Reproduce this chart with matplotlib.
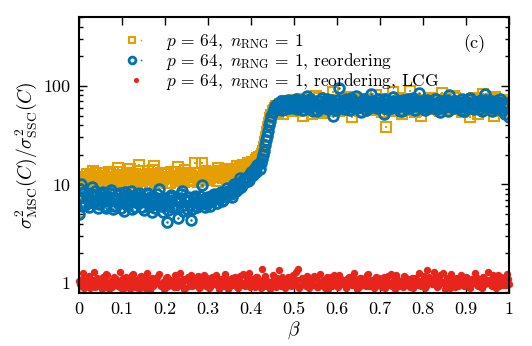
import numpy as np
import matplotlib
matplotlib.use('Agg')
from matplotlib import pyplot as plt
from matplotlib.legend_handler import HandlerTuple

# beta grid, step 0.005, plus the half-step grid in between
beta = np.linspace(0, 1, 201)
beta_b = beta[:-1] + 0.0025

# p=64, n_RNG=1
plain = [5.2, 9.0, 10.5, 12.0, 11.0, 12.5, 10.0, 11.5, 13.0, 10.8, 11.2, 12.2, 9.8, 11.6, 13.5, 10.4, 12.0, 11.0, 14.5, 10.6,
         12.4, 11.3, 9.9, 13.2, 11.8, 10.5, 12.7, 11.1, 15.8, 10.9, 12.3, 11.5, 13.8, 10.2, 11.9, 15.2, 12.1, 10.7, 13.0, 11.4,
         12.6, 10.3, 11.7, 13.4, 12.0, 10.8, 14.9, 11.2, 12.5, 10.6, 13.1, 11.8, 12.3, 10.9, 16.5, 12.0, 11.3, 16.3, 12.8, 11.0,
         12.9, 11.6, 13.5, 12.1, 10.9, 13.8, 12.4, 11.5, 14.0, 12.7, 13.2, 12.0, 14.4, 13.1, 12.6, 14.8, 13.5, 15.0, 14.2, 16.0,
         15.3, 17.0, 16.2, 18.5, 17.8, 20.5, 24.0, 30.0, 38.0, 47.0, 55.0, 60.0, 63.0, 58.0, 66.0, 52.0, 70.0, 61.0, 68.0, 55.0,
         64.0, 72.0, 59.0, 67.0, 50.0, 74.0, 62.0, 69.0, 57.0, 65.0, 78.0, 60.0, 66.0, 53.0, 71.0, 63.0, 58.0, 68.0, 86.0, 61.0,
         67.0, 55.0, 73.0, 64.0, 59.0, 70.0, 62.0, 48.0, 66.0, 75.0, 60.0, 68.0, 56.0, 72.0, 63.0, 67.0, 58.0, 65.0, 80.0, 61.0,
         69.0, 54.0, 66.0, 38.0, 71.0, 62.0, 87.0, 59.0, 68.0, 64.0, 52.0, 73.0, 60.0, 67.0, 89.0, 57.0, 70.0, 63.0, 66.0, 50.0,
         72.0, 61.0, 68.0, 58.0, 74.0, 65.0, 62.0, 69.0, 56.0, 84.0, 64.0, 71.0, 59.0, 67.0, 63.0, 76.0, 60.0, 66.0, 54.0, 70.0,
         62.0, 68.0, 48.0, 73.0, 65.0, 59.0, 71.0, 63.0, 82.0, 57.0, 67.0, 61.0, 74.0, 50.0, 66.0, 69.0, 60.0, 72.0, 58.0, 64.0,
         56.0]
plain_b = [8.0, 11.5, 9.5, 12.8, 10.2, 11.7, 13.6, 10.1, 12.2, 11.0, 9.6, 12.9, 11.4, 10.3, 12.6, 11.8, 10.0, 13.3, 11.1, 12.0,
           10.7, 12.5, 11.6, 14.2, 10.4, 12.1, 11.3, 13.7, 10.8, 12.4, 11.0, 9.7, 12.8, 11.5, 13.9, 10.6, 12.2, 11.7, 10.5, 13.0,
           11.9, 12.7, 10.4, 11.6, 13.5, 12.2, 10.9, 12.8, 11.4, 14.1, 10.7, 12.4, 11.1, 13.2, 11.8, 10.6, 12.9, 11.5, 13.6, 12.3,
           11.2, 13.0, 12.5, 11.8, 14.6, 12.2, 13.3, 11.9, 12.8, 14.2, 12.4, 13.7, 12.9, 15.5, 13.6, 14.1, 15.8, 14.4, 16.6, 15.1,
           16.8, 15.9, 17.6, 19.0, 19.5, 22.0, 27.0, 34.0, 42.0, 51.0, 57.0, 62.0, 54.0, 65.0, 60.0, 69.0, 57.0, 64.0, 71.0, 62.0,
           68.0, 56.0, 65.0, 73.0, 61.0, 58.0, 70.0, 64.0, 52.0, 67.0, 62.0, 75.0, 59.0, 69.0, 65.0, 56.0, 72.0, 63.0, 60.0, 68.0,
           64.0, 71.0, 57.0, 66.0, 77.0, 61.0, 67.0, 59.0, 73.0, 63.0, 55.0, 70.0, 65.0, 60.0, 74.0, 62.0, 68.0, 57.0, 71.0, 64.0,
           60.0, 67.0, 73.0, 58.0, 65.0, 70.0, 62.0, 56.0, 69.0, 75.0, 63.0, 59.0, 66.0, 71.0, 61.0, 68.0, 54.0, 72.0, 64.0, 67.0,
           59.0, 70.0, 63.0, 76.0, 60.0, 66.0, 72.0, 57.0, 68.0, 62.0, 74.0, 65.0, 58.0, 69.0, 78.0, 61.0, 67.0, 71.0, 63.0, 56.0,
           70.0, 64.0, 60.0, 75.0, 66.0, 52.0, 69.0, 62.0, 72.0, 65.0, 58.0, 68.0, 63.0, 77.0, 60.0, 55.0, 71.0, 66.0, 62.0, 69.0]

# p=64, n_RNG=1, reordering
reorder = [5.0, 10.0, 7.5, 6.2, 8.0, 7.0, 9.5, 6.5, 7.8, 5.8, 7.2, 8.4, 6.0, 7.6, 6.8, 8.8, 5.6, 7.3, 6.4, 8.1,
           6.9, 5.4, 7.7, 6.3, 8.6, 7.1, 5.9, 6.7, 8.2, 7.4, 5.5, 6.6, 7.9, 6.1, 5.2, 7.5, 6.8, 8.9, 6.0, 5.3,
           7.2, 4.2, 6.5, 7.8, 5.7, 6.9, 4.6, 7.3, 8.5, 6.2, 5.6, 7.0, 4.4, 6.7, 7.6, 5.9, 6.4, 9.8, 7.1, 6.3,
           7.4, 6.0, 6.8, 7.9, 6.5, 7.2, 8.4, 6.9, 7.7, 9.2, 8.1, 7.5, 10.2, 8.6, 9.0, 11.5, 9.8, 10.6, 12.0, 11.2,
           13.5, 12.4, 14.8, 15.6, 14.2, 18.0, 22.0, 28.0, 35.0, 44.0, 54.0, 62.0, 66.0, 60.0, 70.0, 64.0, 58.0, 72.0, 62.0, 67.0,
           59.0, 74.0, 63.0, 68.0, 57.0, 66.0, 79.0, 61.0, 70.0, 55.0, 65.0, 71.0, 60.0, 75.0, 64.0, 68.0, 58.0, 72.0, 50.0, 66.0,
           63.0, 95.0, 69.0, 60.0, 73.0, 65.0, 57.0, 70.0, 62.0, 78.0, 67.0, 54.0, 71.0, 64.0, 68.0, 59.0, 82.0, 66.0, 61.0, 74.0,
           63.0, 69.0, 52.0, 72.0, 65.0, 60.0, 77.0, 67.0, 62.0, 70.0, 56.0, 68.0, 64.0, 73.0, 59.0, 66.0, 71.0, 62.0, 85.0, 65.0,
           69.0, 57.0, 72.0, 63.0, 67.0, 60.0, 74.0, 65.0, 54.0, 70.0, 62.0, 68.0, 80.0, 64.0, 59.0, 71.0, 66.0, 61.0, 73.0, 55.0,
           67.0, 63.0, 76.0, 60.0, 69.0, 65.0, 58.0, 72.0, 64.0, 83.0, 62.0, 68.0, 56.0, 70.0, 66.0, 61.0, 74.0, 63.0, 52.0, 67.0,
           48.0]
reorder_b = [9.0, 6.0, 8.3, 7.1, 5.9, 7.9, 6.6, 8.5, 7.0, 6.3, 8.0, 7.4, 5.7, 6.9, 8.2, 7.2, 6.1, 7.8, 6.7, 5.8,
             7.5, 8.3, 6.2, 7.0, 5.6, 7.7, 8.0, 6.4, 7.3, 5.9, 6.9, 8.1, 6.3, 7.4, 6.6, 5.7, 7.9, 6.5, 7.1, 6.0,
             6.8, 5.5, 7.4, 6.1, 7.0, 5.8, 6.6, 7.9, 5.4, 6.9, 7.5, 6.2, 5.6, 7.2, 6.0, 6.8, 7.7, 6.4, 5.9, 7.0,
             6.6, 7.6, 7.1, 6.4, 8.0, 7.3, 6.8, 8.2, 7.6, 8.6, 7.9, 9.4, 8.8, 9.6, 10.3, 9.5, 11.0, 11.6, 10.8, 12.6,
             12.9, 14.0, 13.4, 16.2, 16.5, 20.0, 25.0, 31.0, 40.0, 49.0, 58.0, 64.0, 61.0, 68.0, 57.0, 71.0, 65.0, 60.0, 69.0, 63.0,
             70.0, 58.0, 66.0, 72.0, 62.0, 67.0, 60.0, 74.0, 64.0, 68.0, 56.0, 71.0, 63.0, 66.0, 59.0, 73.0, 61.0, 69.0, 65.0, 57.0,
             72.0, 62.0, 67.0, 58.0, 70.0, 64.0, 76.0, 61.0, 66.0, 59.0, 69.0, 63.0, 73.0, 57.0, 67.0, 62.0, 70.0, 65.0, 60.0, 68.0,
             66.0, 61.0, 74.0, 58.0, 69.0, 63.0, 71.0, 60.0, 67.0, 55.0, 72.0, 64.0, 59.0, 68.0, 62.0, 75.0, 57.0, 66.0, 70.0, 61.0,
             64.0, 71.0, 59.0, 67.0, 62.0, 73.0, 58.0, 69.0, 65.0, 60.0, 72.0, 56.0, 66.0, 63.0, 70.0, 61.0, 68.0, 57.0, 65.0, 71.0,
             60.0, 73.0, 64.0, 58.0, 68.0, 62.0, 70.0, 55.0, 66.0, 61.0, 72.0, 64.0, 59.0, 67.0, 63.0, 69.0, 57.0, 65.0, 60.0, 62.0]

# p=64, n_RNG=1, reordering, LCG
lcg = [1.05, 0.92, 1.25, 0.98, 1.12, 0.88, 1.02, 1.30, 0.95, 1.08, 0.90, 1.15, 0.97, 1.20, 0.86, 1.04, 0.99, 1.10, 0.93, 1.28,
       1.01, 0.89, 1.14, 0.96, 1.06, 1.22, 0.91, 1.03, 0.87, 1.18, 0.94, 1.09, 1.00, 0.85, 1.13, 0.97, 1.07, 1.24, 0.92, 1.02,
       0.88, 1.16, 0.99, 1.05, 0.90, 1.11, 0.95, 1.27, 1.00, 0.87, 1.08, 0.93, 1.19, 1.03, 0.96, 1.12, 0.89, 1.04, 1.21, 0.94,
       1.06, 0.91, 1.15, 0.98, 1.02, 0.86, 1.10, 0.97, 1.23, 1.01, 0.92, 1.13, 0.95, 1.07, 0.88, 1.17, 1.00, 0.93, 1.09, 1.26,
       0.96, 1.04, 0.90, 1.14, 0.99, 1.38, 0.94, 1.08, 1.02, 0.87, 1.20, 0.97, 1.11, 1.35, 0.92, 1.05, 0.89, 1.16, 1.00, 0.95,
       1.10, 1.29, 1.40, 0.93, 1.07, 0.98, 1.18, 0.88, 1.03, 0.96, 1.12, 0.91, 1.24, 1.01, 0.94, 1.09, 0.87, 1.15, 0.99, 1.05,
       0.92, 1.21, 0.97, 1.08, 0.89, 1.13, 1.02, 0.95, 1.27, 1.00, 0.90, 1.11, 0.96, 1.06, 1.19, 0.93, 1.04, 0.88, 1.16, 0.98,
       1.07, 0.91, 1.14, 1.01, 0.95, 1.23, 0.99, 0.86, 1.10, 0.94, 1.05, 1.18, 0.97, 1.02, 0.90, 1.12, 0.96, 1.08, 1.25, 0.93,
       1.03, 0.89, 1.34, 1.15, 0.98, 1.28, 1.06, 0.92, 1.19, 1.01, 0.87, 1.11, 0.95, 1.22, 1.04, 0.91, 1.13, 0.99, 1.07, 0.94,
       1.16, 1.00, 0.88, 1.09, 1.26, 0.96, 1.02, 0.90, 1.14, 0.97, 1.30, 1.05, 0.93, 1.11, 0.89, 1.20, 1.03, 0.95, 1.08, 1.24,
       0.98]
lcg_b = [0.97, 1.10, 0.89, 1.03, 1.17, 0.94, 1.06, 0.91, 1.13, 1.00, 0.87, 1.08, 1.22, 0.95, 1.02, 0.90, 1.15, 0.98, 1.05, 0.88,
         1.11, 0.96, 1.04, 0.86, 1.19, 0.99, 1.07, 0.93, 1.14, 1.01, 0.89, 1.26, 0.97, 1.09, 0.92, 1.03, 1.16, 0.95, 1.00, 0.87,
         1.12, 0.94, 1.06, 0.98, 1.21, 0.90, 1.04, 0.96, 1.10, 0.88, 1.15, 1.01, 0.93, 1.07, 0.99, 1.18, 0.91, 1.02, 0.95, 1.13,
         0.89, 1.05, 0.97, 1.20, 0.92, 1.08, 1.00, 0.94, 1.11, 0.87, 1.04, 0.98, 1.16, 0.91, 1.06, 0.96, 1.23, 0.99, 1.02, 0.90,
         1.09, 0.95, 1.14, 1.01, 0.88, 1.07, 1.18, 0.93, 1.03, 0.97, 1.12, 0.90, 1.05, 0.99, 1.15, 0.92, 1.08, 1.02, 0.94, 1.20,
         0.96, 1.06, 0.89, 1.13, 1.00, 0.93, 1.10, 1.04, 0.97, 1.17, 0.91, 1.02, 0.95, 1.08, 0.88, 1.14, 1.00, 0.94, 1.21, 1.03,
         0.90, 1.11, 0.98, 1.05, 0.92, 1.16, 1.01, 0.96, 1.09, 0.87, 1.13, 0.99, 1.04, 0.93, 1.24, 0.97, 1.07, 0.91, 1.02, 1.12,
         0.95, 1.08, 0.89, 1.17, 1.00, 0.94, 1.06, 1.20, 0.98, 1.03, 0.91, 1.14, 0.96, 1.09, 1.01, 0.88, 1.12, 0.95, 1.05, 0.99,
         1.18, 0.92, 1.07, 1.03, 0.97, 1.13, 0.90, 1.10, 1.00, 1.25, 0.95, 1.04, 0.89, 1.16, 0.98, 1.08, 0.93, 1.20, 1.02, 0.96,
         1.11, 0.91, 1.06, 0.99, 1.15, 0.94, 1.03, 0.88, 1.12, 1.00, 1.08, 0.95, 1.19, 0.97, 1.05, 0.92, 1.14, 1.01, 0.96, 1.10]

labels = [r'$p\,=\,64,\ n_{\rm RNG}\,=\,1$',
          r'$p\,=\,64,\ n_{\rm RNG}\,=\,1$, reordering',
          r'$p\,=\,64,\ n_{\rm RNG}\,=\,1$, reordering, LCG']

orange = '#e69f00'
blue = '#0072b2'
red = '#e8251a'

plt.rcParams['font.family'] = 'serif'
plt.rcParams['font.serif'] = ['cmr10']
plt.rcParams['mathtext.fontset'] = 'cm'
plt.rcParams['axes.formatter.use_mathtext'] = True
plt.rcParams['font.size'] = 13

x_all = np.concatenate([beta, beta_b])
plain_all = np.concatenate([plain, plain_b])
reorder_all = np.concatenate([reorder, reorder_b])
lcg_all = np.concatenate([lcg, lcg_b])

fig = plt.figure(figsize=(5.32, 3.46), dpi=100)
ax = fig.add_axes([0.1485, 0.1532, 0.8083, 0.7977])

sq, = ax.plot(x_all, plain_all, ls='none', marker='s', ms=6.5, mfc='none', mec=orange, mew=1.5)
sqd, = ax.plot(x_all, plain_all, ls='none', marker='s', ms=1.6, mfc=orange, mec=orange, mew=0)
ci, = ax.plot(x_all, reorder_all, ls='none', marker='o', ms=7, mfc='none', mec=blue, mew=2.0)
cid, = ax.plot(x_all, reorder_all, ls='none', marker='o', ms=1.8, mfc=blue, mec=blue, mew=0)
rd, = ax.plot(x_all, lcg_all, ls='none', marker='o', ms=5.3, mfc=red, mec=red, mew=0, clip_on=False)

ax.set_yscale('log')
ax.set_xlim(0, 1)
ax.set_ylim(0.79, 500)
ax.set_xticks(np.arange(0, 1.01, 0.1))
ax.set_xticklabels(['0', '0.1', '0.2', '0.3', '0.4', '0.5', '0.6', '0.7', '0.8', '0.9', '1'])
ax.set_yticks([1, 10, 100])
ax.set_yticklabels(['1', '10', '100'])
ax.tick_params(which='both', direction='in', top=True, right=True, width=1.0, labelsize=13)
ax.tick_params(which='major', length=6, pad=6)
ax.tick_params(which='minor', length=3)
for s in ax.spines.values():
    s.set_linewidth(1.5)

ax.set_xlabel(r'$\beta$', fontsize=14, labelpad=2)
ax.set_ylabel(r'$\sigma^2_{\rm MSC}(C)/\sigma^2_{\rm SSC}(C)$', fontsize=14, labelpad=3)

ax.text(0.945, 0.905, '(c)', transform=ax.transAxes, ha='right', va='center', fontsize=13)

ax.legend([(sq, sqd), (ci, cid), rd], labels, loc='upper left', bbox_to_anchor=(0.085, 0.99),
          frameon=False, handler_map={tuple: HandlerTuple(ndivide=None, pad=0)}, markerscale=0.7,
          handlelength=1.0, handletextpad=1.2, labelspacing=-0.05, borderaxespad=0.3, fontsize=12.5)

fig.savefig('out.png', dpi=100)
